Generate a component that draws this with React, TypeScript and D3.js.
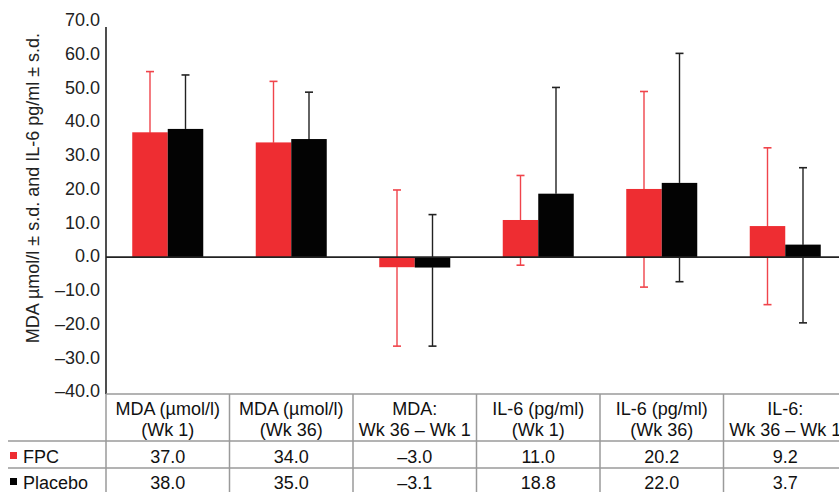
import React, { useEffect, useRef } from "react";
import * as d3 from "d3";

const categories = [
	["MDA (\u00b5mol/l)", "(Wk 1)"],
	["MDA (\u00b5mol/l)", "(Wk 36)"],
	["MDA:", "Wk 36 \u2013 Wk 1"],
	["IL-6 (pg/ml)", "(Wk 1)"],
	["IL-6 (pg/ml)", "(Wk 36)"],
	["IL-6:", "Wk 36 \u2013 Wk 1"],
];
const seriesNames = ["FPC", "Placebo"];
const fpcValues = [37.0, 34.0, -3.0, 11.0, 20.2, 9.2];
const placeboValues = [38.0, 35.0, -3.1, 18.8, 22.0, 3.7];
// error bar ends (null = not drawn)
const fpcHigh = [55.0, 52.1, 19.9, 24.2, 49.1, 32.4];
const fpcLow = [19.0, 16.0, -26.4, -2.4, -8.9, -14.1];
const placeboHigh = [54.0, 48.9, 12.6, 50.3, 60.4, 26.5];
const placeboLow = [22.0, 21.0, -26.4, null, -7.3, -19.5];
const yTicks = [70, 60, 50, 40, 30, 20, 10, 0, -10, -20, -30, -40];

const RED = "#ee2d32";
const BLACK = "#030303";
const FONT = "'Liberation Sans', Arial, sans-serif";

const App: React.FC = () => {
	const ref = useRef<SVGSVGElement>(null);

	useEffect(() => {
		const svg = d3.select(ref.current);
		svg.selectAll("*").remove();

		const width = 839;
		const height = 492;
		const left = 106;

		const fmt = (v: number) => (v < 0 ? "\u2013" : "") + Math.abs(v).toFixed(1);

		const x0 = d3
			.scaleBand<number>()
			.domain(d3.range(categories.length))
			.range([left, left + 123.5 * categories.length])
			.padding(0);

		const y = d3.scaleLinear().domain([-40, 70]).range([392, 21]);

		const series = [
			{ name: seriesNames[0], values: fpcValues, hi: fpcHigh, lo: fpcLow, color: RED, err: "#f0444b" },
			{ name: seriesNames[1], values: placeboValues, hi: placeboHigh, lo: placeboLow, color: BLACK, err: "#222" },
		];

		const x1 = d3
			.scaleBand<string>()
			.domain(seriesNames)
			.range([x0.bandwidth() / 2 - 35.5, x0.bandwidth() / 2 + 35.5]);

		// y tick labels
		svg
			.append("g")
			.selectAll("text")
			.data(yTicks)
			.join("text")
			.attr("x", left - 6)
			.attr("y", (d) => y(d) - 1)
			.attr("dy", "0.35em")
			.attr("text-anchor", "end")
			.attr("font-size", 18)
			.attr("fill", "#222")
			.text(fmt);

		svg
			.append("text")
			.attr("transform", `translate(39,${188}) rotate(-90)`)
			.attr("text-anchor", "middle")
			.attr("font-size", 18)
			.attr("fill", "#222")
			.text("MDA \u00b5mol/l \u00b1 s.d. and IL-6 pg/ml \u00b1 s.d.");

		// error bars (behind bars)
		const eg = svg.append("g");
		series.forEach((s) => {
			s.values.forEach((v, i) => {
				const cx = x0(i)! + x1(s.name)! + x1.bandwidth() / 2;
				[s.hi[i], s.lo[i]].forEach((end) => {
					if (end == null) return;
					eg.append("line")
						.attr("x1", cx).attr("x2", cx)
						.attr("y1", y(v)).attr("y2", y(end))
						.attr("stroke", s.err).attr("stroke-width", 1.4);
					eg.append("line")
						.attr("x1", cx - 4).attr("x2", cx + 4)
						.attr("y1", y(end)).attr("y2", y(end))
						.attr("stroke", s.err).attr("stroke-width", 1.6);
				});
			});
		});

		// bars
		const bg = svg.append("g");
		series.forEach((s) => {
			bg.selectAll(null)
				.data(s.values)
				.join("rect")
				.attr("x", (d, i) => x0(i)! + x1(s.name)!)
				.attr("width", x1.bandwidth())
				.attr("y", (d) => y(Math.max(0, d)))
				.attr("height", (d) => Math.abs(y(d) - y(0)))
				.attr("fill", s.color);
		});

		// zero line and axis
		svg.append("line")
			.attr("x1", left).attr("x2", width)
			.attr("y1", y(0)).attr("y2", y(0))
			.attr("stroke", "#222").attr("stroke-width", 1.6);
		svg.append("line")
			.attr("x1", left).attr("x2", left)
			.attr("y1", 27).attr("y2", 394)
			.attr("stroke", "#222").attr("stroke-width", 1.6);

		// data table
		const tTop = 394;
		const hBottom = 441;
		const rowH = 27;
		const tg = svg.append("g").attr("font-size", 18).attr("fill", "#111");
		const grid = "#9a9a9a";
		tg.append("line")
			.attr("x1", left).attr("x2", width)
			.attr("y1", tTop).attr("y2", tTop)
			.attr("stroke", grid).attr("stroke-width", 1.5);
		[hBottom, hBottom + rowH].forEach((yy) =>
			tg.append("line")
				.attr("x1", 8).attr("x2", width)
				.attr("y1", yy).attr("y2", yy)
				.attr("stroke", grid).attr("stroke-width", 1.5)
		);
		categories.forEach((c, i) => {
			tg.append("line")
				.attr("x1", x0(i)! + x0.bandwidth()).attr("x2", x0(i)! + x0.bandwidth())
				.attr("y1", tTop).attr("y2", height)
				.attr("stroke", grid).attr("stroke-width", 1.5);
		});
		tg.append("line")
			.attr("x1", left).attr("x2", left)
			.attr("y1", tTop).attr("y2", height)
			.attr("stroke", grid).attr("stroke-width", 1.5);

		categories.forEach((c, i) => {
			const cx = x0(i)! + x0.bandwidth() / 2;
			c.forEach((line, k) => {
				tg.append("text")
					.attr("x", cx)
					.attr("y", 414.5 + k * 21)
					.attr("text-anchor", "middle")
					.text(line);
			});
			series.forEach((s, si) => {
				tg.append("text")
					.attr("x", cx)
					.attr("y", hBottom + rowH * si + 21.5 - si)
					.attr("text-anchor", "middle")
					.text(fmt(s.values[i]));
			});
		});

		series.forEach((s, si) => {
			const yy = hBottom + rowH * si - si;
			tg.append("rect")
				.attr("x", 10).attr("y", yy + 11)
				.attr("width", 7).attr("height", 7)
				.attr("fill", s.color);
			tg.append("text")
				.attr("x", 23)
				.attr("y", yy + 21.5)
				.text(s.name);
		});
	}, []);

	return (
		<svg
			ref={ref}
			width={839}
			height={492}
			style={{ position: "absolute", left: 0, top: 0, fontFamily: FONT, background: "#fff" }}
		/>
	);
};

export default App;
